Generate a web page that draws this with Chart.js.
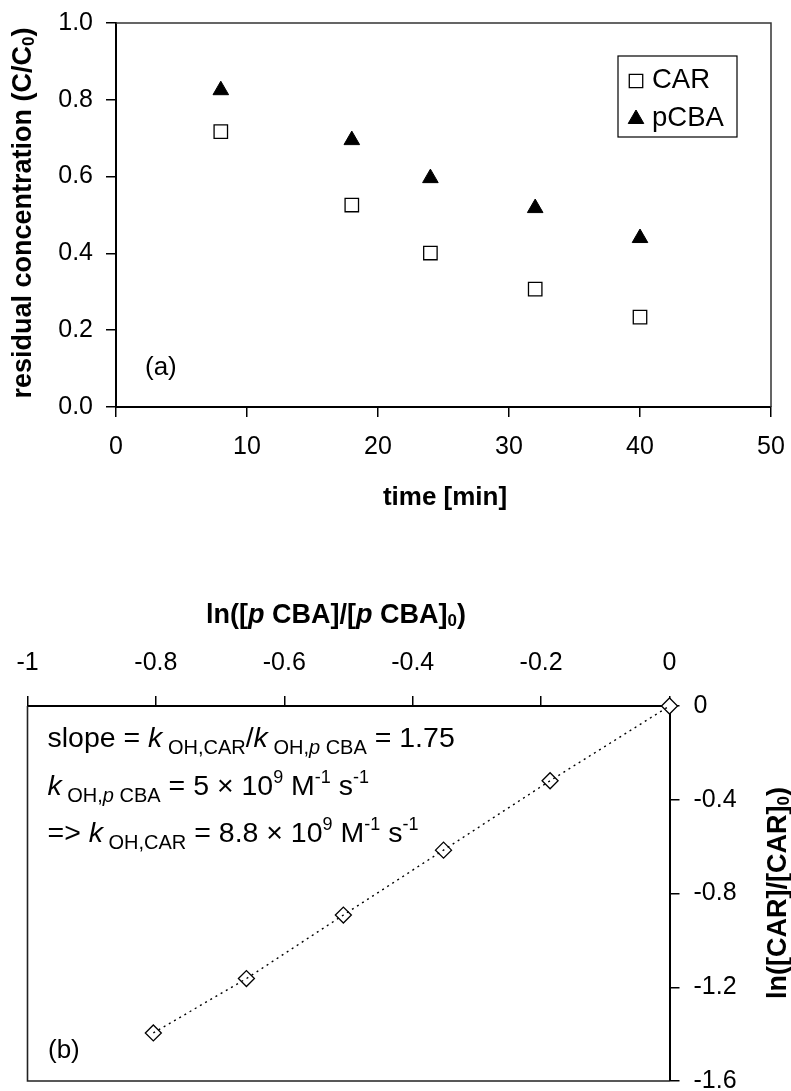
<!DOCTYPE html>
<html>
<head>
<meta charset="utf-8">
<script src="https://cdn.jsdelivr.net/npm/chart.js@4.4.1/dist/chart.umd.min.js"></script>
<style>
  html, body { margin: 0; padding: 0; background: #fff; overflow: hidden; width: 791px; height: 1091px; }
  canvas { position: absolute; left: 0; }
</style>
</head>
<body>
<canvas id="chartA" width="791" height="560" style="top:0"></canvas>
<canvas id="chartB" width="791" height="560" style="top:560px"></canvas>
<script>
const FONT = "'Liberation Sans', Arial, Helvetica, sans-serif";

// Panel (a): residual concentration vs. time
const timeMin = [8, 18, 24, 32, 40];
const carResidual = [0.717, 0.526, 0.401, 0.307, 0.234];
const pcbaResidual = [0.825, 0.695, 0.596, 0.518, 0.440];
const timeTicks = [0, 10, 20, 30, 40, 50];
const residualTicks = [0, 0.2, 0.4, 0.6, 0.8, 1.0];

// Panel (b): ln([CAR]/[CAR]0) vs. ln([pCBA]/[pCBA]0)
const lnPcba = [-0.804, -0.659, -0.508, -0.352, -0.186, 0];
const lnCar = [-1.395, -1.163, -0.892, -0.615, -0.319, 0];
const lnPcbaTicks = [-1, -0.8, -0.6, -0.4, -0.2, 0];
const lnCarTicks = [0, -0.4, -0.8, -1.2, -1.6];

const toPoints = (xs, ys) => xs.map((x, i) => ({ x: x, y: ys[i] }));
const fixedTicks = arr => scale => { scale.ticks = arr.map(v => ({ value: v })); };

// Draw a row of text runs (mixed size / italic / bold / sub- and superscripts)
function drawRuns(ctx, runs, x, y, align, rotation) {
  ctx.save();
  ctx.translate(x, y);
  if (rotation) ctx.rotate(rotation);
  ctx.textBaseline = 'alphabetic';
  ctx.textAlign = 'left';
  ctx.fillStyle = '#000';
  const fontOf = r => (r.italic ? 'italic ' : '') + (r.bold ? 'bold ' : '') + r.size + 'px ' + FONT;
  let total = 0;
  const widths = runs.map(r => { ctx.font = fontOf(r); const w = ctx.measureText(r.text).width; total += w; return w; });
  let cx = align === 'center' ? -total / 2 : 0;
  runs.forEach((r, i) => { ctx.font = fontOf(r); ctx.fillText(r.text, cx, r.dy || 0); cx += widths[i]; });
  ctx.restore();
}

function markerShape(ctx, style, x, y, r, fill, stroke, lw) {
  ctx.save();
  ctx.beginPath();
  if (style === 'rect') {
    const s = Math.SQRT1_2 * r;
    ctx.rect(x - s, y - s, 2 * s, 2 * s);
  } else if (style === 'triangle') {
    ctx.moveTo(x, y - r);
    ctx.lineTo(x + 0.866 * r, y + r / 2);
    ctx.lineTo(x - 0.866 * r, y + r / 2);
    ctx.closePath();
  }
  ctx.fillStyle = fill; ctx.fill();
  ctx.lineWidth = lw; ctx.strokeStyle = stroke; ctx.stroke();
  ctx.restore();
}

const axisGrid = { display: true, drawOnChartArea: false, drawTicks: true, tickLength: 10, color: '#000', lineWidth: 1.5 };
const axisBorder = { display: true, color: '#000', width: 2 };
const tickFont = { family: FONT, size: 25 };

// ---------- Panel (a) ----------
const panelA = {
  id: 'panelA',
  beforeDatasetsDraw(chart) {
    const { ctx, chartArea: a } = chart;
    ctx.save();
    ctx.strokeStyle = '#333'; ctx.lineWidth = 1.5;
    ctx.beginPath();
    ctx.moveTo(a.left, a.top); ctx.lineTo(a.right, a.top); ctx.lineTo(a.right, a.bottom);
    ctx.stroke();
    ctx.restore();
  },
  afterDraw(chart) {
    const { ctx } = chart;
    // axis titles
    drawRuns(ctx, [
      { text: 'residual concentration (C/C', size: 27, bold: true },
      { text: '0', size: 17, bold: true, dy: 3 },
      { text: ')', size: 27, bold: true }
    ], 31, 213, 'center', -Math.PI / 2);
    drawRuns(ctx, [{ text: 'time [min]', size: 26, bold: true }], 445, 505, 'center');
    drawRuns(ctx, [{ text: '(a)', size: 26 }], 145, 375, 'left');

    // legend box
    ctx.save();
    ctx.fillStyle = '#fff';
    ctx.fillRect(618, 56, 119, 81);
    ctx.strokeStyle = '#000'; ctx.lineWidth = 1.2;
    ctx.strokeRect(618, 56, 119, 81);
    const rows = [80, 118];
    chart.data.datasets.forEach((ds, i) => {
      markerShape(ctx, ds.pointStyle, 636, rows[i] + 1, ds.pointRadius, ds.backgroundColor, ds.borderColor, ds.borderWidth);
      ctx.fillStyle = '#000';
      ctx.font = '27.5px ' + FONT;
      ctx.textBaseline = 'middle';
      ctx.textAlign = 'left';
      ctx.fillText(ds.label, 652, rows[i]);
    });
    ctx.restore();
  }
};

new Chart(document.getElementById('chartA'), {
  type: 'scatter',
  data: {
    datasets: [
      { label: 'CAR', data: toPoints(timeMin, carResidual), pointStyle: 'rect', pointRadius: 9.5,
        backgroundColor: '#fff', borderColor: '#000', borderWidth: 1.3, clip: false },
      { label: 'pCBA', data: toPoints(timeMin, pcbaResidual), pointStyle: 'triangle', pointRadius: 9,
        backgroundColor: '#000', borderColor: '#000', borderWidth: 1, clip: false }
    ]
  },
  options: {
    responsive: false, animation: false, devicePixelRatio: 1, events: [],
    layout: { padding: { left: 0, top: 23, right: 20, bottom: 0 } },
    plugins: { legend: { display: false }, tooltip: { enabled: false } },
    scales: {
      x: {
        type: 'linear', position: 'bottom', min: 0, max: 50,
        afterBuildTicks: fixedTicks(timeTicks),
        afterFit(s) { s.height = 153; s.paddingLeft = 0; s.paddingRight = 0; },
        grid: axisGrid, border: axisBorder,
        ticks: { font: tickFont, color: '#000', padding: 15, maxRotation: 0, autoSkip: false,
                 callback: v => String(v) }
      },
      y: {
        type: 'linear', position: 'left', min: 0, max: 1,
        afterBuildTicks: fixedTicks(residualTicks),
        afterFit(s) { s.width = 116; s.paddingTop = 0; s.paddingBottom = 0; },
        grid: axisGrid, border: axisBorder,
        ticks: { font: tickFont, color: '#000', padding: 13, autoSkip: false,
                 callback: v => Number(v).toFixed(1) }
      }
    }
  },
  plugins: [panelA]
});

// ---------- Panel (b) ----------
const panelB = {
  id: 'panelB',
  beforeDatasetsDraw(chart) {
    const { ctx, chartArea: a } = chart;
    ctx.save();
    ctx.strokeStyle = '#222'; ctx.lineWidth = 1.6;
    ctx.beginPath();
    ctx.moveTo(a.left, a.top); ctx.lineTo(a.left, a.bottom); ctx.lineTo(a.right, a.bottom);
    ctx.stroke();
    ctx.restore();
  },
  afterDraw(chart) {
    const { ctx } = chart;
    const M = 28.5, S = 20, P = 18;
    // top axis title
    drawRuns(ctx, [
      { text: 'ln([', size: 27, bold: true },
      { text: 'p', size: 27, bold: true, italic: true },
      { text: ' CBA]/[', size: 27, bold: true },
      { text: 'p', size: 27, bold: true, italic: true },
      { text: ' CBA]', size: 27, bold: true },
      { text: '0', size: 17, bold: true, dy: 3 },
      { text: ')', size: 27, bold: true }
    ], 336, 63, 'center');
    // right axis title, reading upward
    drawRuns(ctx, [
      { text: 'ln([CAR]/[CAR]', size: 27, bold: true },
      { text: '0', size: 17, bold: true, dy: 3 },
      { text: ')', size: 27, bold: true }
    ], 786, 333, 'center', -Math.PI / 2);

    // rate-constant annotation
    drawRuns(ctx, [
      { text: 'slope = ', size: M },
      { text: 'k', size: M, italic: true },
      { text: ' OH,CAR', size: S, dy: 7 },
      { text: '/', size: M },
      { text: 'k', size: M, italic: true },
      { text: ' OH,', size: S, dy: 7 },
      { text: 'p', size: S, italic: true, dy: 7 },
      { text: ' CBA', size: S, dy: 7 },
      { text: ' = 1.75', size: M }
    ], 47.5, 187, 'left');
    drawRuns(ctx, [
      { text: 'k', size: M, italic: true },
      { text: ' OH,', size: S, dy: 7 },
      { text: 'p', size: S, italic: true, dy: 7 },
      { text: ' CBA', size: S, dy: 7 },
      { text: ' = 5 \u00d7 10', size: M },
      { text: '9', size: P, dy: -12 },
      { text: ' M', size: M },
      { text: '-1', size: P, dy: -12 },
      { text: ' s', size: M },
      { text: '-1', size: P, dy: -12 }
    ], 47.5, 235, 'left');
    drawRuns(ctx, [
      { text: '=> ', size: M },
      { text: 'k', size: M, italic: true },
      { text: ' OH,CAR', size: S, dy: 7 },
      { text: ' = 8.8 \u00d7 10', size: M },
      { text: '9', size: P, dy: -12 },
      { text: ' M', size: M },
      { text: '-1', size: P, dy: -12 },
      { text: ' s', size: M },
      { text: '-1', size: P, dy: -12 }
    ], 47.5, 282, 'left');
    drawRuns(ctx, [{ text: '(b)', size: 26 }], 48, 498, 'left');
  }
};

new Chart(document.getElementById('chartB'), {
  type: 'scatter',
  data: {
    datasets: [
      { label: 'fit', data: toPoints(lnPcba, lnCar), showLine: true, pointRadius: 0,
        borderColor: '#000', borderWidth: 1.4, borderDash: [2, 4], clip: false },
      { label: 'CAR vs pCBA', data: toPoints(lnPcba, lnCar), pointStyle: 'rectRot', pointRadius: 8,
        backgroundColor: '#fff', borderColor: '#000', borderWidth: 1.3, clip: false }
    ]
  },
  options: {
    responsive: false, animation: false, devicePixelRatio: 1, events: [],
    layout: { padding: { left: 27.5, top: 0, right: 11.5, bottom: 39 } },
    plugins: { legend: { display: false }, tooltip: { enabled: false } },
    scales: {
      x: {
        type: 'linear', position: 'top', min: -1, max: 0,
        afterBuildTicks: fixedTicks(lnPcbaTicks),
        afterFit(s) { s.height = 146; s.paddingLeft = 0; s.paddingRight = 0; },
        grid: axisGrid, border: axisBorder,
        ticks: { font: tickFont, color: '#000', padding: 18, maxRotation: 0, autoSkip: false,
                 callback: v => String(Number(Number(v).toFixed(2))) }
      },
      y: {
        type: 'linear', position: 'right', min: -1.6, max: 0,
        afterBuildTicks: fixedTicks(lnCarTicks),
        afterFit(s) { s.width = 110; s.paddingTop = 0; s.paddingBottom = 0; },
        grid: axisGrid, border: axisBorder,
        ticks: { font: tickFont, color: '#000', padding: 14, autoSkip: false,
                 callback: v => String(Number(Number(v).toFixed(2))) }
      }
    }
  },
  plugins: [panelB]
});
</script>
</body>
</html>
